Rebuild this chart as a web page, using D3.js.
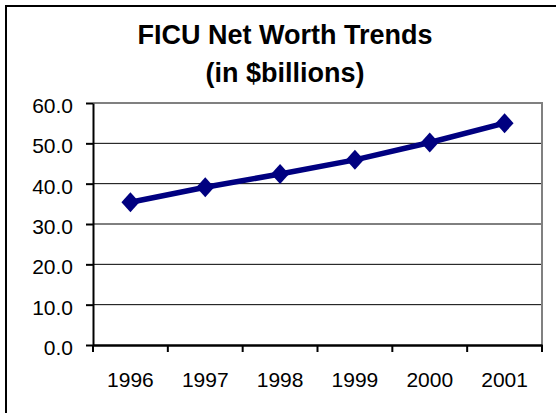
<!DOCTYPE html>
<html>
<head>
<meta charset="utf-8">
<script src="https://d3js.org/d3.v7.min.js"></script>
<style>
  body { margin: 0; background: #fff; }
  svg { font-family: "Liberation Sans", Arial, sans-serif; }
  .axis text { font-size: 21px; fill: #000; }
  .axis path, .axis line { stroke: #000; }
</style>
</head>
<body>
<svg width="556" height="413"></svg>
<script>
// chart data
var years = ["1996", "1997", "1998", "1999", "2000", "2001"];
var netWorth = [35.4, 39.1, 42.4, 45.9, 50.2, 55.0];
var yTicks = [0, 10, 20, 30, 40, 50, 60];
var titleLines = ["FICU Net Worth Trends", "(in $billions)"];

var svg = d3.select("svg");

// outer chart frame (only top and left edges fall inside the picture)
svg.append("rect")
  .attr("x", 6).attr("y", 6)
  .attr("width", 600).attr("height", 500)
  .attr("fill", "none")
  .attr("stroke", "#000")
  .attr("stroke-width", 2);

// title
svg.selectAll(".title")
  .data(titleLines)
  .enter().append("text")
  .attr("class", "title")
  .attr("x", 285)
  .attr("y", (d, i) => 44 + i * 38)
  .attr("text-anchor", "middle")
  .attr("font-size", "27px")
  .attr("font-weight", "bold")
  .text(d => d);

var plotLeft = 93, plotRight = 542, plotTop = 103, plotBottom = 345;

var x = d3.scaleBand().domain(years).range([plotLeft, plotRight]);
var y = d3.scaleLinear().domain([0, 60]).range([plotBottom, plotTop]);

// gridlines
svg.append("g")
  .selectAll("line")
  .data(yTicks.slice(1, -1))
  .enter().append("line")
  .attr("x1", plotLeft).attr("x2", plotRight)
  .attr("y1", d => y(d)).attr("y2", d => y(d))
  .attr("stroke", "#000")
  .attr("stroke-width", 1);

// plot area border, top & right in gray
svg.append("path")
  .attr("d", `M${plotLeft},${y(60)}H${plotRight}V${plotBottom}`)
  .attr("fill", "none")
  .attr("stroke", "#808080")
  .attr("stroke-width", 2);

// y axis
var yAxis = svg.append("g")
  .attr("class", "axis")
  .attr("transform", `translate(${plotLeft},0)`)
  .call(d3.axisLeft(y).tickValues(yTicks).tickSize(7).tickPadding(13)
    .tickSizeOuter(0).tickFormat(d3.format(".1f")));
yAxis.select(".domain").attr("stroke-width", 2);
yAxis.selectAll(".tick line").attr("stroke-width", 2);
yAxis.selectAll("text").attr("dy", "0.45em");

// x axis with ticks between categories
var xAxis = svg.append("g")
  .attr("class", "axis")
  .attr("transform", `translate(0,${plotBottom})`)
  .call(d3.axisBottom(x).tickSize(0).tickPadding(27).tickSizeOuter(0));
xAxis.select(".domain").attr("stroke-width", 2.5);

var bounds = years.map(d => x(d)).concat([x.range()[1]]);
xAxis.selectAll(".sep")
  .data(bounds)
  .enter().append("line")
  .attr("class", "sep")
  .attr("x1", d => d).attr("x2", d => d)
  .attr("y1", 0).attr("y2", 7)
  .attr("stroke", "#000")
  .attr("stroke-width", 2);

// series line
var line = d3.line()
  .x((d, i) => x(years[i]) + x.bandwidth() / 2)
  .y(d => y(d));

svg.append("path")
  .datum(netWorth)
  .attr("d", line)
  .attr("fill", "none")
  .attr("stroke", "#000080")
  .attr("stroke-width", 5.5);

// diamond markers
svg.selectAll(".marker")
  .data(netWorth)
  .enter().append("path")
  .attr("class", "marker")
  .attr("transform", (d, i) => `translate(${x(years[i]) + x.bandwidth() / 2},${y(d)})`)
  .attr("d", "M0,-10L9,0L0,10L-9,0Z")
  .attr("fill", "#000080");
</script>
</body>
</html>
